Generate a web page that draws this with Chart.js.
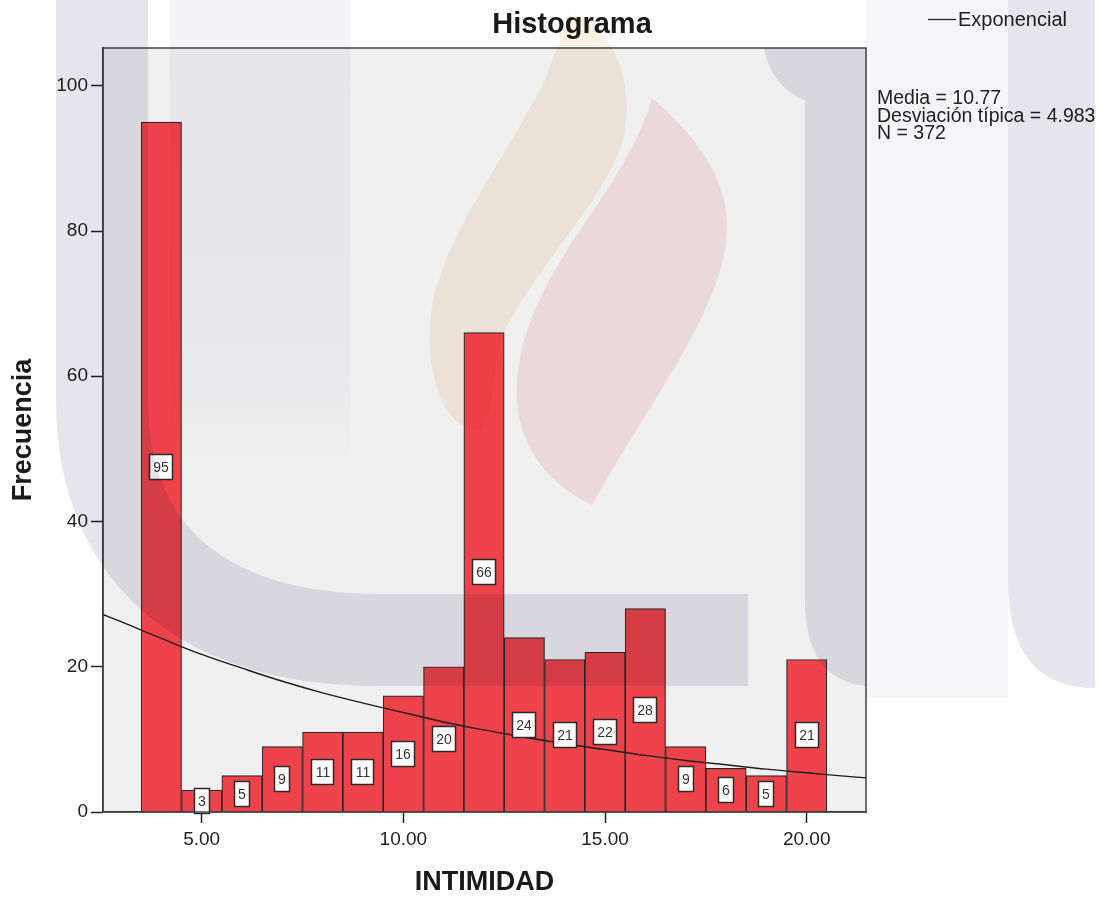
<!DOCTYPE html>
<html>
<head>
<meta charset="utf-8">
<title>Histograma</title>
<script src="https://cdn.jsdelivr.net/npm/chart.js@4.4.0/dist/chart.umd.min.js"></script>
<style>
  body { margin: 0; background: #fff; }
  #wrap { width: 1110px; height: 899px; position: relative; }
</style>
</head>
<body>
<div id="wrap"><canvas id="myChart"></canvas></div>
<script>
// INTIMIDAD bins (centers) and frequencies
var binCenters = [4, 5, 6, 7, 8, 9, 10, 11, 12, 13, 14, 15, 16, 17, 18, 19, 20];
var counts = [95, 3, 5, 9, 11, 11, 16, 20, 66, 24, 21, 22, 28, 9, 6, 5, 21];

// exponential curve
var curveX = [2.5, 3, 4, 5, 6, 7, 8, 9, 10, 11, 12, 13, 14, 15, 16, 17, 18, 19, 20, 21, 21.5];
var curveY = [27.3, 26.2, 23.9, 21.7, 19.8, 18.0, 16.4, 15.0, 13.7, 12.4, 11.3, 10.3, 9.4, 8.6, 7.8, 7.1, 6.5, 5.9, 5.4, 4.9, 4.7];

// axes
var xTicks = [5, 10, 15, 20];
var yTicks = [0, 20, 40, 60, 80, 100];
var xMin = 2.553, xMax = 21.47;
var yMin = 0, yMax = 105.2;

var statsLines = ['Media = 10.77', 'Desviación típica = 4.983', 'N = 372'];

var FONT = '"Liberation Sans", Arial, sans-serif';

var barPoints = binCenters.map(function (c, i) { return { x: c, y: counts[i] }; });
var curvePoints = curveX.map(function (v, i) { return { x: v, y: curveY[i] }; });

// plot background + white page
var bgPlugin = {
  id: 'bgPlugin',
  beforeDraw: function (chart) {
    var c = chart.ctx, a = chart.chartArea;
    c.save();
    c.fillStyle = '#ffffff';
    c.fillRect(0, 0, chart.width, chart.height);
    c.fillStyle = '#f0f0f0';
    c.fillRect(a.left, a.top, a.right - a.left, a.bottom - a.top);
    c.restore();
  }
};

// white boxes with the count in the middle of each bar
var boxPlugin = {
  id: 'boxPlugin',
  afterDatasetsDraw: function (chart) {
    var c = chart.ctx;
    var meta = chart.getDatasetMeta(1);
    c.save();
    c.font = '14px ' + FONT;
    c.textAlign = 'center';
    c.textBaseline = 'middle';
    meta.data.forEach(function (bar, i) {
      var txt = String(counts[i]);
      var w = Math.round(c.measureText(txt).width + 8);
      var h = 26;
      var cx = Math.round(bar.x);
      var cy = Math.round((bar.y + bar.base) / 2);
      var x0 = cx - Math.round(w / 2), y0 = cy - Math.round(h / 2);
      c.fillStyle = '#ffffff';
      c.fillRect(x0, y0, w, h);
      c.strokeStyle = '#2a2a2a';
      c.lineWidth = 1.5;
      c.strokeRect(x0 + 0.5, y0 + 0.5, w - 1, h - 1);
      c.fillStyle = '#333333';
      c.fillText(txt, cx, cy + 1);
    });
    c.restore();
  }
};

// frame, title, legend, stats and the faint watermark
var decoPlugin = {
  id: 'decoPlugin',
  afterDraw: function (chart) {
    var c = chart.ctx, a = chart.chartArea;
    c.save();
    c.strokeStyle = '#444';
    c.lineWidth = 1.5;
    c.strokeRect(a.left, a.top, a.right - a.left, a.bottom - a.top);

    c.fillStyle = '#1a1a1a';
    c.font = 'bold 29px ' + FONT;
    c.textAlign = 'center';
    c.textBaseline = 'middle';
    c.fillText('Histograma', 572, 25);

    // legend
    c.strokeStyle = '#222';
    c.lineWidth = 1.3;
    c.beginPath();
    c.moveTo(928, 19.5);
    c.lineTo(956, 19.5);
    c.stroke();
    c.font = '20px ' + FONT;
    c.textAlign = 'left';
    c.fillStyle = '#222';
    c.fillText('Exponencial', 958, 20);

    // stats
    c.font = '19.5px ' + FONT;
    statsLines.forEach(function (s, i) {
      c.fillText(s, 877, 99 + i * 17.5);
    });
    c.restore();

    // watermark (multiplied over everything)
    c.save();
    c.globalCompositeOperation = 'multiply';

    var g = c.createLinearGradient(0, 0, 0, 470);
    g.addColorStop(0, 'rgb(244,244,247)');
    g.addColorStop(0.7, 'rgb(246,246,249)');
    g.addColorStop(1, 'rgb(255,255,255)');
    c.fillStyle = g;
    c.fillRect(170, 0, 180, 470);

    c.strokeStyle = 'rgb(229,229,235)';
    c.lineWidth = 92;
    c.lineCap = 'butt';
    c.beginPath();
    c.moveTo(102, -10);
    c.lineTo(102, 400);
    c.bezierCurveTo(102, 560, 210, 640, 380, 640);
    c.lineTo(748, 640);
    c.stroke();

    // right arm
    c.fillStyle = 'rgb(229,229,235)';
    c.beginPath();
    c.moveTo(764, a.top);
    c.lineTo(a.right, a.top);
    c.lineTo(a.right, 686);
    c.quadraticCurveTo(805, 680, 805, 600);
    c.lineTo(805, 100);
    c.bezierCurveTo(790, 95, 770, 80, 764, a.top);
    c.fill();

    c.fillStyle = 'rgb(246,246,248)';
    c.fillRect(a.right, 0, 1008 - a.right, 698);

    c.fillStyle = 'rgb(229,229,235)';
    c.beginPath();
    c.moveTo(1008, 0);
    c.lineTo(1095, 0);
    c.lineTo(1095, 688);
    c.quadraticCurveTo(1008, 688, 1008, 580);
    c.closePath();
    c.fill();

    // orange flame
    c.fillStyle = 'rgb(251,240,228)';
    c.beginPath();
    c.moveTo(575, 15);
    c.bezierCurveTo(615, 30, 632, 80, 625, 130);
    c.bezierCurveTo(615, 190, 540, 260, 505, 330);
    c.bezierCurveTo(490, 370, 495, 420, 480, 430);
    c.bezierCurveTo(445, 430, 428, 380, 430, 330);
    c.bezierCurveTo(432, 250, 500, 170, 545, 80);
    c.bezierCurveTo(555, 55, 560, 35, 575, 15);
    c.fill();

    // red flame
    c.fillStyle = 'rgb(250,231,232)';
    c.beginPath();
    c.moveTo(652, 98);
    c.bezierCurveTo(700, 140, 728, 180, 727, 230);
    c.bezierCurveTo(725, 300, 660, 390, 612, 470);
    c.lineTo(592, 505);
    c.bezierCurveTo(560, 490, 525, 460, 518, 410);
    c.bezierCurveTo(510, 350, 540, 290, 580, 230);
    c.bezierCurveTo(615, 180, 640, 140, 652, 98);
    c.fill();

    c.restore();
  }
};

var ctx = document.getElementById('myChart').getContext('2d');
var myChart = new Chart(ctx, {
  type: 'bar',
  data: {
    datasets: [
      {
        type: 'line',
        label: 'Exponencial',
        data: curvePoints,
        borderColor: '#1e1e1e',
        borderWidth: 1.4,
        pointRadius: 0,
        tension: 0.4,
        fill: false,
        order: 0
      },
      {
        type: 'bar',
        label: 'Frecuencia',
        data: barPoints,
        backgroundColor: 'rgb(239,67,75)',
        borderColor: '#2b2b2b',
        borderWidth: 1.2,
        barPercentage: 1,
        categoryPercentage: 1,
        order: 1
      }
    ]
  },
  options: {
    responsive: true,
    maintainAspectRatio: false,
    animation: false,
    layout: { padding: { left: 0, top: 48, right: 244, bottom: 0 } },
    plugins: {
      legend: { display: false },
      tooltip: { enabled: false },
      title: { display: false }
    },
    scales: {
      x: {
        type: 'linear',
        min: xMin,
        max: xMax,
        offset: false,
        afterBuildTicks: function (s) { s.ticks = xTicks.map(function (v) { return { value: v }; }); },
        afterFit: function (s) { s.height = 87; },
        ticks: {
          autoSkip: false,
          maxRotation: 0,
          padding: 5,
          color: '#222',
          font: { family: FONT, size: 19 },
          callback: function (v) { return Number(v).toFixed(2); }
        },
        grid: { display: true, drawOnChartArea: false, drawTicks: true, tickLength: 11, tickWidth: 1.5, color: '#222', offset: false },
        border: { display: true, color: '#222', width: 1.5 },
        title: { display: true, text: 'INTIMIDAD', color: '#1a1a1a', font: { family: FONT, size: 27, weight: 'bold' }, padding: { top: 0, bottom: 0 } }
      },
      y: {
        min: yMin,
        max: yMax,
        afterBuildTicks: function (s) { s.ticks = yTicks.map(function (v) { return { value: v }; }); },
        afterFit: function (s) { s.width = 103; },
        ticks: {
          padding: 3,
          color: '#222',
          font: { family: FONT, size: 19 }
        },
        grid: { display: true, drawOnChartArea: false, drawTicks: true, tickLength: 12, tickWidth: 1.5, color: '#222' },
        border: { display: true, color: '#222', width: 1.5 },
        title: { display: true, text: 'Frecuencia', color: '#1a1a1a', font: { family: FONT, size: 27, weight: 'bold' }, padding: { top: 7, bottom: 0 } }
      }
    }
  },
  plugins: [bgPlugin, boxPlugin, decoPlugin]
});
</script>
</body>
</html>
